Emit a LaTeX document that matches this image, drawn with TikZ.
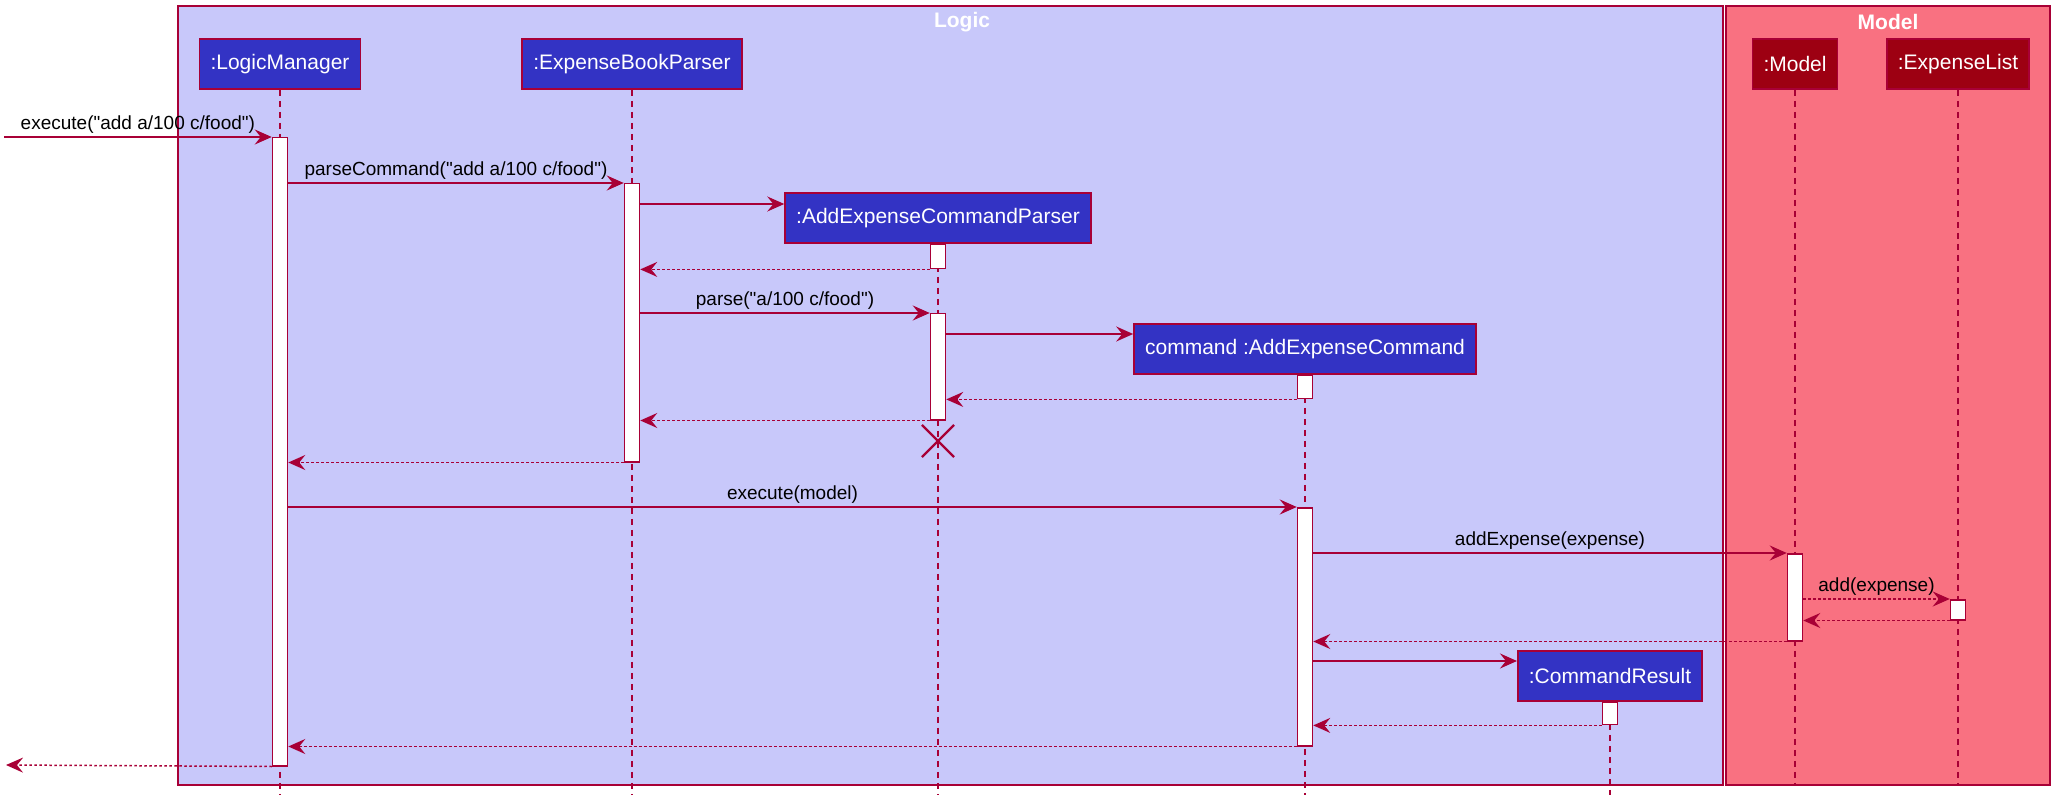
\documentclass[tikz,border=0pt]{standalone}
\usepackage{fontspec}
\setmainfont{Liberation Sans}[Ligatures=TeXOff]
\usetikzlibrary{arrows.meta,shapes.misc}
\definecolor{umlred}{HTML}{A80036}
\definecolor{logicbg}{HTML}{C8C8FA}
\definecolor{modelbg}{HTML}{F97181}
\definecolor{partblue}{HTML}{3333C4}
\definecolor{modelpart}{HTML}{9D0012}

\begin{document}
\begin{tikzpicture}[x=1pt, y=-1pt,
  every node/.style={font=\fontsize{19}{22}\selectfont},
  part/.style={draw=umlred, line width=1.8pt, fill=partblue, text=white,
    minimum height=50pt, inner xsep=11pt, font=\fontsize{21}{25}\selectfont},
  mpart/.style={part, fill=modelpart},
  act/.style={draw=umlred, line width=1.5pt, fill=white, minimum width=15pt,
    inner sep=0pt, anchor=north},
  life/.style={draw=umlred, line width=1.2pt, dash pattern=on 6pt off 5pt},
  msg/.style={draw=umlred, line width=1.5pt,
    -{Stealth[length=17pt, width=15pt, inset=6pt]}},
  ret/.style={msg, dash pattern=on 2.5pt off 2.5pt},
  lbl/.style={above, inner sep=3pt},
  frametitle/.style={text=white, font=\bfseries\fontsize{21}{24}\selectfont}]
  \useasboundingbox (0,0) rectangle (2065,810);
  \draw[umlred, line width=1.8pt, fill=logicbg] (178,6) rectangle (1723,785);
  \draw[umlred, line width=1.8pt, fill=modelbg] (1726,6) rectangle (2050,785);
  \node[frametitle] (tLogic) at (962,22) {Logic};
  \node[frametitle] (tModel) at (1888,22) {Model};

  \node[part] (lm) at (280,64) {:LogicManager};
  \node[part] (ebp) at (632,64) {:ExpenseBookParser};
  \node[part] (aecp) at (938,218) {:AddExpenseCommandParser};
  \node[part] (aec) at (1305,349) {command :AddExpenseCommand};
  \node[part] (cr) at (1610,676) {:CommandResult};
  \node[mpart] (model) at (1795,64) {:Model};
  \node[mpart] (el) at (1958,64) {:ExpenseList};

  \foreach \p in {lm,ebp,aecp,aec,cr}
    \draw[life] (\p.south) -- (\p.south |- 0,795);
  \foreach \p in {model,el}
    \draw[life] (\p.south) -- (\p.south |- 0,785);

  \node[act, minimum height=628pt] (aLM) at (280,137) {};
  \node[act, minimum height=278pt] (aEBP) at (632,183) {};
  \node[act, minimum height=24pt] (aP1) at (aecp.south) {};
  \node[act, minimum height=106pt] (aP2) at (938,313) {};
  \node[act, minimum height=23pt] (aC1) at (aec.south) {};
  \node[act, minimum height=238pt] (aC2) at (1305,507) {};
  \node[act, minimum height=87pt] (aM) at (1795,553) {};
  \node[act, minimum height=20pt] (aE) at (1958,599) {};
  \node[act, minimum height=22pt] (aR) at (cr.south) {};
  \node[draw=umlred, cross out, minimum size=30pt, line width=2.2pt] (kill) at (938,441) {};

  \coordinate (in) at (4,137);
  \coordinate (out) at (6,765);

  \draw[msg] (in) -- node[lbl] {execute("add a/100 c/food")} (aLM.north west);
  \draw[msg] (aLM.east |- aEBP.north) -- node[lbl] {parseCommand("add a/100 c/food")} (aEBP.north west);
  \draw[msg] (aEBP.east |- 0,204) -- (aecp.west |- 0,204);
  \draw[ret] (aP1.south west) -- (aEBP.east |- aP1.south);
  \draw[msg] (aEBP.east |- aP2.north) -- node[lbl] {parse("a/100 c/food")} (aP2.north west);
  \draw[msg] (aP2.east |- 0,334) -- (aec.west |- 0,334);
  \draw[ret] (aC1.south west) -- (aP2.east |- aC1.south);
  \draw[ret] (aP2.south west) -- (aEBP.east |- aP2.south);
  \draw[ret] (aEBP.south west) -- (aLM.east |- aEBP.south);
  \draw[msg] (aLM.east |- aC2.north) -- node[lbl] {execute(model)} (aC2.north west);
  \draw[msg] (aC2.east |- aM.north) -- node[lbl] {addExpense(expense)} (aM.north west);
  \draw[ret] (aM.east |- aE.north) -- node[lbl] {add(expense)} (aE.north west);
  \draw[ret] (aE.south west) -- (aM.east |- aE.south);
  \draw[ret] (aM.south west) -- (aC2.east |- aM.south);
  \draw[msg] (aC2.east |- 0,661) -- (cr.west |- 0,661);
  \draw[ret] (aR.south west) -- (aC2.east |- aR.south);
  \draw[ret] (aC2.south west) -- (aLM.east |- aC2.south);
  \draw[ret] (aLM.south west) -- (out);
\end{tikzpicture}
\end{document}
